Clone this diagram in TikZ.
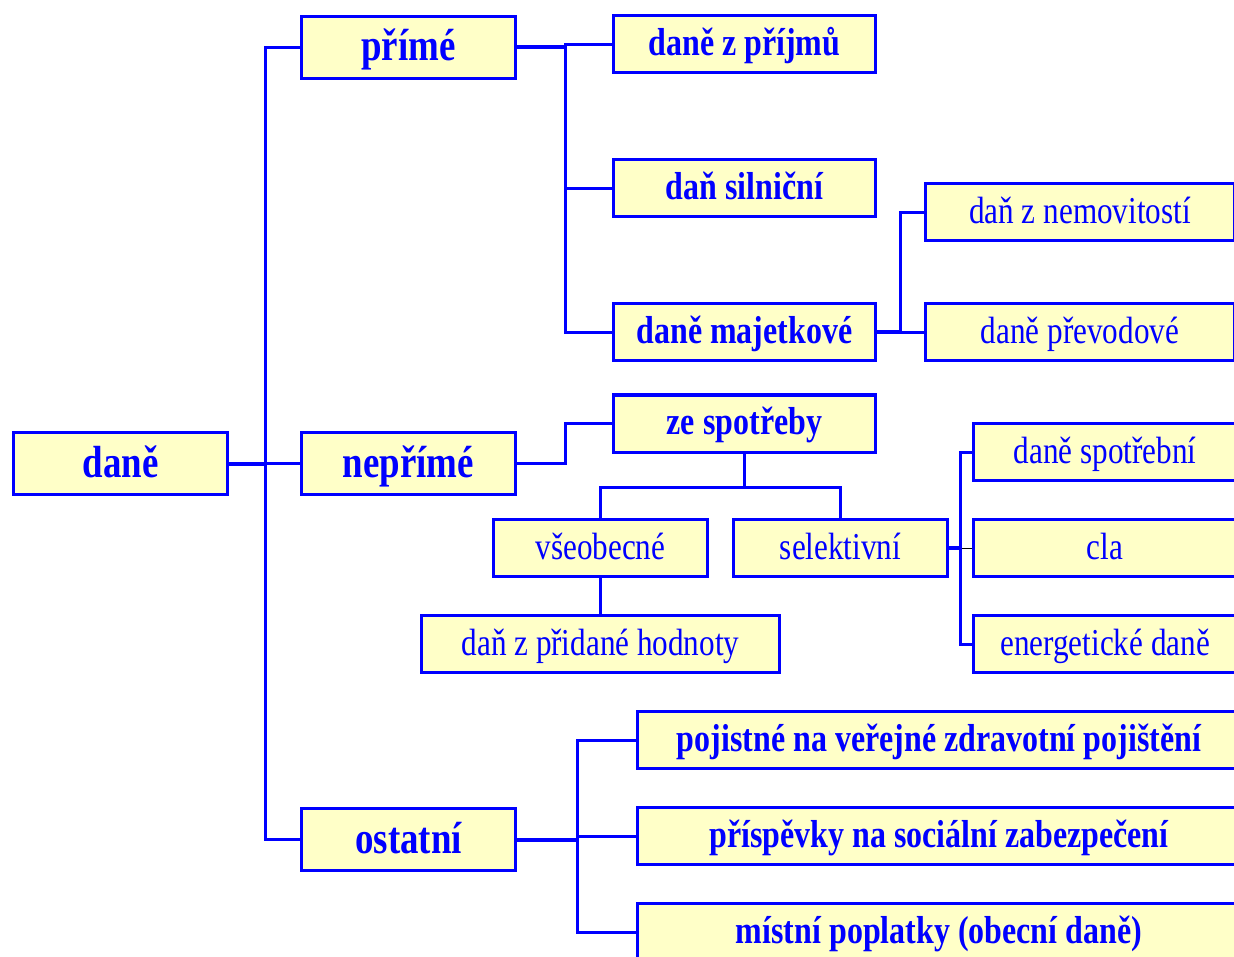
\documentclass[tikz,border=0pt]{standalone}
\usepackage{fontspec}
\setmainfont{Liberation Serif}[FakeStretch=0.82]
\usetikzlibrary{positioning}
\definecolor{tblue}{RGB}{0,0,255}
\definecolor{tyellow}{RGB}{255,255,200}

\begin{document}
\begin{tikzpicture}[x=1pt, y=-1pt,
  box/.style={draw=tblue, fill=tyellow, line width=3pt, inner sep=0pt, text=tblue},
  topbox/.style={box, minimum width=214pt, minimum height=62pt, font=\fontsize{45}{54}\selectfont\bfseries, text height=37pt, text depth=10pt},
  midbox/.style={box, minimum width=262pt, minimum height=57pt, font=\fontsize{39}{47}\selectfont\bfseries, text height=31pt, text depth=9pt},
  plainbox/.style={box, minimum width=214pt, minimum height=57pt, font=\fontsize{38}{46}\selectfont, text height=31pt, text depth=9pt},
  link/.style={draw=tblue, line width=3pt},
  stub/.style={draw=tblue, line width=4pt}]
  \useasboundingbox (0,0) rectangle (1234,957);
  \clip (0,0) rectangle (1234,957);

  \node[topbox] at (120.5,463.5) (dane) {daně};
  \node[topbox, right=71pt of dane]    (neprime) {nepřímé};
  \node[topbox, above=351pt of neprime] (prime)  {přímé};
  \node[topbox, below=311pt of neprime] (ostatni) {ostatní};

  \node[midbox, right=95pt of prime, yshift=3pt] (prijmy)    {daně z příjmů};
  \node[midbox, below=84pt of prijmy]            (silnicni)  {daň silniční};
  \node[midbox, below=84pt of silnicni]          (majet)     {daně majetkové};
  \node[midbox, below=31pt of majet]             (spotreba)  {ze spotřeby};

  \node[plainbox, minimum width=309pt, right=47pt of majet] (prevod)  {daně převodové};
  \node[plainbox, minimum width=309pt, above=60pt of prevod] (nemovit) {daň z nemovitostí};

  \node[plainbox] at (840.5,548) (select) {selektivní};
  \node[plainbox, left=23pt of select]  (vseob) {všeobecné};
  \node[plainbox, minimum width=358pt, below=36pt of vseob] (dph) {daň z přidané hodnoty};

  \node[plainbox, minimum width=263pt, right=23pt of select] (cla)       {cla};
  \node[plainbox, minimum width=263pt, above=36pt of cla]    (spotrebni) {daně spotřební};
  \node[plainbox, minimum width=263pt, below=36pt of cla]    (energ)     {energetické daně};

  \node[midbox, minimum width=603pt, right=119pt of ostatni, yshift=3.5pt] (prisp) {příspěvky na sociální zabezpečení};
  \node[midbox, minimum width=603pt, above=36pt of prisp] (pojist) {pojistné na veřejné zdravotní pojištění};
  \node[midbox, minimum width=603pt, below=36pt of prisp] (mistni) {místní poplatky (obecní daně)};

  \coordinate[right=36pt of dane]     (j1);
  \coordinate[right=48pt of prime]    (j2);
  \coordinate[right=48pt of neprime]  (j3);
  \coordinate[below=34pt of spotreba] (j4);
  \coordinate[right=23pt of majet]    (j5);
  \coordinate[right=11pt of select]   (j6);
  \coordinate[right=60pt of ostatni]  (j7);

  \draw[stub] (dane.east) -- (j1);
  \draw[link] (j1) -- (neprime.west);
  \draw[link] (prime.west) -| (j1 |- ostatni) -- (ostatni.west);

  \draw[stub] (prime.east) -- (j2);
  \draw[link] (prijmy.west) -| (j2 |- majet) -- (majet.west);
  \draw[link] (j2 |- silnicni) -- (silnicni.west);

  \draw[link] (neprime.east) -- (j3) |- (spotreba.west);
  \draw[link] (spotreba.south) -- (j4);
  \draw[link] (vseob.north) |- (j4) -| (select.north);
  \draw[link] (vseob.south) -- (dph.north);

  \draw[stub] (majet.east) -- (j5);
  \draw[link] (j5) -- (prevod.west);
  \draw[link] (j5) |- (nemovit.west);

  \draw[stub] (select.east) -- (j6);
  \draw[black, line width=1pt] (j6) -- (cla.west);
  \draw[link] (spotrebni.west) -| (j6 |- energ) -- (energ.west);

  \draw[stub] (ostatni.east) -- (j7);
  \draw[link] (j7 |- prisp) -- (prisp.west);
  \draw[link] (pojist.west) -| (j7 |- mistni) -- (mistni.west);
\end{tikzpicture}
\end{document}
